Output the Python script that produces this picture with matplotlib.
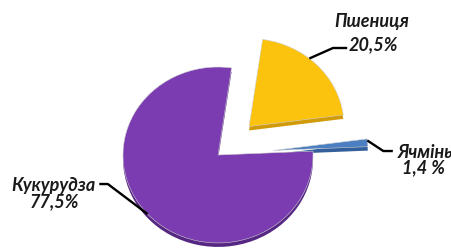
import numpy as np
import matplotlib
matplotlib.use('Agg')
import matplotlib.pyplot as plt

# дані
crops = ['Ячмінь', 'Пшениця', 'Кукурудза']
shares = [1.4, 20.5, 77.5]
share_labels = ['1,4 %', '20,5%', '77,5%']
colors = ['#4b7fc1', '#fbc20e', '#7a3cb0']
dark = ['#33609c', '#d09a08', '#562683']
explode = [0.58, 0.46, 0.0]

plt.rcParams['font.family'] = ['Lato', 'DejaVu Sans']

fig = plt.figure(figsize=(4.52, 2.51), dpi=100)
ax = fig.add_axes([0, 0, 1, 1])

# "товщина" секторів
ax.pie(shares, explode=explode, colors=dark, startangle=2.5,
       counterclock=True, center=(0, -0.045))
wedges, _ = ax.pie(shares, explode=explode, colors=colors, startangle=2.5,
                   counterclock=True, wedgeprops=dict(edgecolor='#d0d0d0', linewidth=0.4))

ax.set_aspect('auto')
ax.set_xlim(-2.295, 2.463)
ax.set_ylim(-1.08, 1.773)
ax.axis('off')

def edge_point(w, frac=0.5):
    t = np.deg2rad(w.theta1 + (w.theta2 - w.theta1) * frac)
    cx, cy = w.center
    return cx + w.r * np.cos(t), cy + w.r * np.sin(t)

fs = 13
style = dict(fontsize=fs, fontweight='bold', fontstyle='italic', color='#1a1a1a')
lw = 1.7

# Пшениця
px, py = edge_point(wedges[1], 0.58)
ax.plot([px, 1.21, 1.36], [py, 1.216, 1.216], color='k', lw=lw, solid_capstyle='butt')
ax.text(1.62, 1.523, crops[1], ha='center', va='center', **style)
ax.text(1.64, 1.261, share_labels[1], ha='center', va='center', **style)

# Ячмінь
bx, by = edge_point(wedges[0], 0.8)
ax.plot([bx, 1.74, 1.84], [by, 0.045, 0.045], color='k', lw=lw, solid_capstyle='butt')
ax.text(1.89, 0.045, crops[0], ha='left', va='center', **style)
ax.text(2.16, -0.136, share_labels[0], ha='center', va='center', **style)

# Кукурудза
kx, ky = edge_point(wedges[2], 0.5)
ax.plot([-1.25, -1.16, kx], [-0.33, -0.33, ky], color='k', lw=lw, solid_capstyle='butt')
ax.text(-1.737, -0.33, crops[2], ha='center', va='center', **style)
ax.text(-1.72, -0.523, share_labels[2], ha='center', va='center', **style)

fig.savefig('out.png', dpi=100)
